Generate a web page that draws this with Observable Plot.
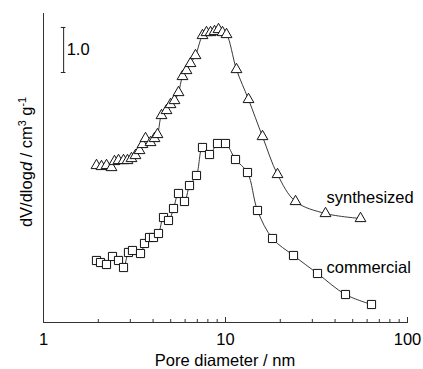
<!DOCTYPE html>
<html>
<head>
<meta charset="utf-8">
<script src="https://cdn.jsdelivr.net/npm/d3@7"></script>
<script src="https://cdn.jsdelivr.net/npm/@observablehq/plot@0.6"></script>
<style>
  html, body { margin: 0; padding: 0; background: #fff; }
  #chart { width: 423px; height: 369px; }
  svg { font-family: "Liberation Sans", Arial, sans-serif; }
</style>
</head>
<body>
<div id="chart"></div>
<script>
// Synthesized (triangles)
const poreSynth = [1.955, 2.083, 2.219, 2.364, 2.455, 2.583, 2.752, 2.894, 3.044, 3.202, 3.369, 3.499, 3.635, 3.872, 4.073, 4.230, 4.450, 4.741, 4.987, 5.246, 5.518, 5.803, 6.106, 6.423, 6.841, 7.475, 7.863, 8.272, 8.701, 9.153, 9.627, 10.13, 11.49, 13.38, 15.97, 19.31, 24.25, 35.44, 55.18];
const dvSynth   = [3.489, 3.467, 3.489, 3.444, 3.578, 3.600, 3.600, 3.600, 3.644, 3.711, 3.822, 3.956, 4.089, 4.000, 4.089, 4.178, 4.600, 4.711, 4.844, 4.933, 5.111, 5.467, 5.600, 5.756, 5.933, 6.378, 6.444, 6.444, 6.467, 6.511, 6.444, 6.400, 5.622, 4.956, 4.133, 3.289, 2.689, 2.422, 2.311];

// Commercial (squares)
const poreComm = [1.955, 2.057, 2.219, 2.394, 2.583, 2.752, 2.931, 3.083, 3.412, 3.589, 3.824, 4.022, 4.284, 4.564, 4.862, 5.180, 5.518, 5.952, 6.342, 6.928, 7.475, 8.168, 9.039, 10.00, 11.35, 13.21, 14.99, 18.13, 23.64, 32.03, 45.64, 63.42];
const dvComm   = [1.378, 1.333, 1.289, 1.467, 1.378, 1.222, 1.556, 1.600, 1.533, 1.756, 1.889, 1.889, 1.978, 2.333, 2.267, 2.533, 2.867, 2.689, 3.044, 3.267, 3.889, 3.733, 3.978, 3.978, 3.622, 3.333, 2.489, 1.867, 1.489, 1.089, 0.622, 0.400];

// Axis ticks
const xTickLabels = [1, 10, 100];
const xMinorTicks = [2, 3, 4, 5, 6, 7, 8, 9, 20, 30, 40, 50, 60, 70, 80, 90];

// Scale bar (1.0 unit)
const scaleBarX = 1.29;
const scaleBarY = [5.556, 6.556];
const scaleBarLabel = "1.0";

// Series labels
const seriesNames = ["synthesized", "commercial"];
const seriesLabelX = [35.9, 35.9];
const seriesLabelY = [2.78, 1.22];

const synth = poreSynth.map((d, i) => ({x: d, y: dvSynth[i]}));
const comm = poreComm.map((d, i) => ({x: d, y: dvComm[i]}));
const labels = seriesNames.map((t, i) => ({t, x: seriesLabelX[i], y: seriesLabelY[i]}));

const fs = 16.5;

const chart = Plot.plot({
  width: 423,
  height: 369,
  marginLeft: 43,
  marginRight: 16,
  marginTop: 13,
  marginBottom: 47,
  style: {fontFamily: '"Liberation Sans", Arial, sans-serif', background: "#fff", color: "#000"},
  x: {type: "log", domain: [1, 100]},
  y: {domain: [0, 309 / 45], axis: null},
  marks: [
    Plot.frame({anchor: "left", stroke: "#333"}),
    Plot.frame({anchor: "bottom", stroke: "#333"}),
    Plot.axisX(xTickLabels, {tickSize: -5, tickPadding: 16, fontSize: fs, stroke: "#333", label: null, tickFormat: d => String(d)}),
    Plot.axisX(xMinorTicks, {tickSize: -3, text: null, stroke: "#333", label: null}),
    // scale bar
    Plot.ruleX([scaleBarX], {y1: scaleBarY[0], y2: scaleBarY[1], stroke: "#222"}),
    Plot.ruleY(scaleBarY, {x1: scaleBarX / 1.03, x2: scaleBarX * 1.03, stroke: "#222"}),
    Plot.text([scaleBarLabel], {x: scaleBarX, y: (scaleBarY[0] + scaleBarY[1]) / 2, text: d => d, textAnchor: "start", dx: 3, fontSize: fs, fill: "#000"}),
    // curves
    Plot.line(synth, {x: "x", y: "y", curve: "catmull-rom", stroke: "#222", strokeWidth: 0.9}),
    Plot.line(comm, {x: "x", y: "y", curve: "catmull-rom", stroke: "#222", strokeWidth: 0.9}),
    Plot.dot(synth, {x: "x", y: "y", symbol: "triangle", r: 4.0, fill: "#fff", stroke: "#111", strokeWidth: 1}),
    Plot.dot(comm, {x: "x", y: "y", symbol: "square", r: 4.6, fill: "#fff", stroke: "#111", strokeWidth: 1}),
    Plot.text(labels, {x: "x", y: "y", text: "t", textAnchor: "start", fontSize: fs, fill: "#000"})
  ]
});

document.getElementById("chart").appendChild(chart);

// Axis titles with italic d and superscripts
const svg = d3.select(chart);
svg.append("text")
  .attr("x", 225).attr("y", 366)
  .attr("text-anchor", "middle")
  .attr("font-size", fs)
  .attr("fill", "#000")
  .text("Pore diameter / nm");

const yl = svg.append("text")
  .attr("transform", "translate(32,162) rotate(-90)")
  .attr("text-anchor", "middle")
  .attr("font-size", fs)
  .attr("fill", "#000");
yl.append("tspan").text("dV/dlog");
yl.append("tspan").attr("font-style", "italic").text("d");
yl.append("tspan").text(" / cm");
yl.append("tspan").attr("font-size", fs * 0.65).attr("dy", -6).text("3");
yl.append("tspan").attr("dy", 6).text(" g");
yl.append("tspan").attr("font-size", fs * 0.65).attr("dy", -6).text("-1");
</script>
</body>
</html>
